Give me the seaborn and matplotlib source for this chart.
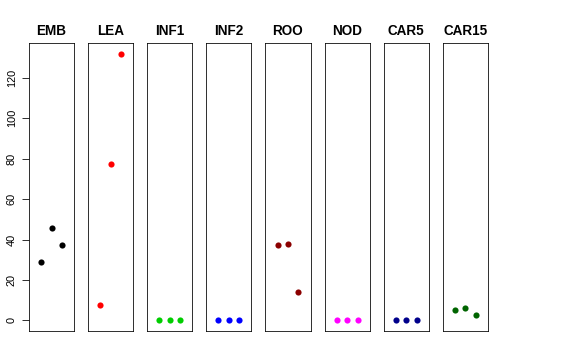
import numpy as np
import pandas as pd
import seaborn as sns
import matplotlib
matplotlib.use("Agg")
import matplotlib.pyplot as plt

# tissues and their 3 replicate values
tissues = ["EMB", "LEA", "INF1", "INF2", "ROO", "NOD", "CAR5", "CAR15"]
colors = ["black", "#FF0000", "#00CD00", "#0000FF", "#8B0000", "#FF00FF", "#00008B", "#006400"]
replicate = [1, 2, 3]

emb = [28.7, 45.7, 37.5]
lea = [7.6, 77.2, 132.0]
inf1 = [0, 0, 0]
inf2 = [0, 0, 0]
roo = [37.1, 37.6, 14.0]
nod = [0, 0, 0]
car5 = [0, 0, 0]
car15 = [5.3, 6.1, 2.5]

values = [emb, lea, inf1, inf2, roo, nod, car5, car15]

# long table
rows = []
for t, v in zip(tissues, values):
    for r, y in zip(replicate, v):
        rows.append({"tissue": t, "rep": r, "value": y})
df = pd.DataFrame(rows)

sns.set_style("white")
plt.rcParams['font.family'] = ['Liberation Sans', 'DejaVu Sans']
plt.rcParams['text.color'] = 'black'
plt.rcParams['ytick.color'] = 'black'

fig, axes = plt.subplots(1, 8, figsize=(8, 5), dpi=72, sharey=True)
fig.subplots_adjust(left=0.0503, right=0.847, top=0.8806, bottom=0.0806, wspace=0.31)

ymax = df["value"].max()
for ax, t, c in zip(axes, tissues, colors):
    sub = df[df["tissue"] == t]
    sns.scatterplot(data=sub, x="rep", y="value", color=c, s=38, linewidth=0, ax=ax)
    ax.set_xlim(-0.16, 4.16)
    ax.set_ylim(-0.04 * ymax, ymax * 1.04)
    ax.set_title(t, fontsize=13.5, fontweight="bold", pad=8, color="black")
    ax.set_xticks([])
    ax.set_xlabel("")
    ax.set_ylabel("")
    for sp in ax.spines.values():
        sp.set_color("black")
        sp.set_linewidth(0.8)
    ax.tick_params(axis="y", left=False, labelleft=False)

axes[0].set_yticks([0, 20, 40, 60, 80, 100, 120])
axes[0].tick_params(axis="y", left=True, labelleft=True, length=7, width=0.8,
                    color="black", labelcolor="black", labelsize=11, pad=5)
for lab in axes[0].get_yticklabels():
    lab.set_rotation(90)
    lab.set_va("center")

fig.savefig("out.png", dpi=72)
